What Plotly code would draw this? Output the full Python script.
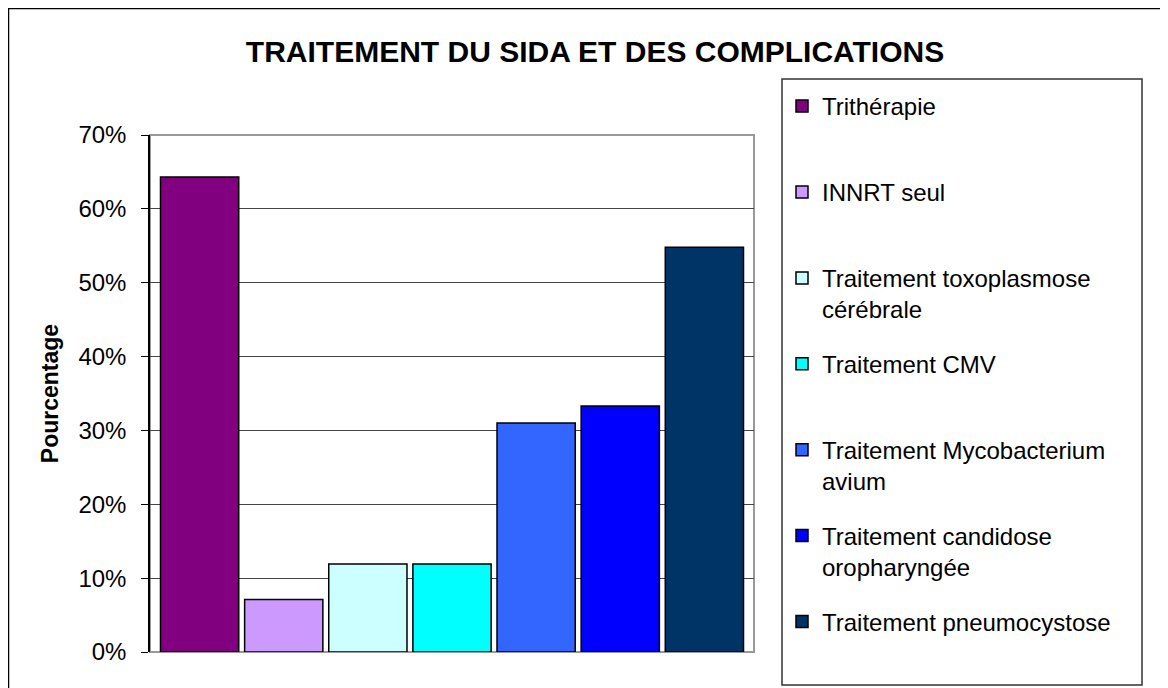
import plotly.graph_objects as go

FONT = "Arial, 'Liberation Sans', sans-serif"

SERIES = ["Trithérapie", "INNRT seul", "Traitement toxoplasmose<br>cérébrale",
          "Traitement CMV", "Traitement Mycobacterium<br>avium",
          "Traitement candidose<br>oropharyngée", "Traitement pneumocystose"]
VALUES = [0.643, 0.071, 0.119, 0.119, 0.310, 0.333, 0.548]
COLORS = ["#800080", "#CC99FF", "#CCFFFF", "#00FFFF", "#3366FF", "#0000FF", "#003366"]
Y_TICKS = [0, 0.1, 0.2, 0.3, 0.4, 0.5, 0.6, 0.7]

W, H = 1160, 680
PL, PR, PT, PB = 142, 746, 127, 644  # plot area in pixels


def px_x(v):
    return (v - PL) / (PR - PL)


def px_y(v):
    return (PB - v) / (PB - PT)


fig = go.Figure()
for i, (name, val, col) in enumerate(zip(SERIES, VALUES, COLORS)):
    # pad single-line labels so every legend entry has the same height
    label = name if "<br>" in name else name + "<br> "
    fig.add_trace(go.Bar(
        x=[""], y=[val], name=label, legendgroup=str(i),
        marker=dict(color=col, line=dict(color="black", width=1.5)),
        hoverinfo="y",
    ))

fig.update_layout(
    width=W, height=H,
    barmode="group", bargap=0.025, bargroupgap=0.07,
    margin=dict(l=PL, r=W - PR, t=PT, b=H - PB),
    paper_bgcolor="white", plot_bgcolor="white",
    font=dict(family=FONT, color="black"),
    title=dict(text="<b>TRAITEMENT DU SIDA ET DES COMPLICATIONS</b>",
               font=dict(size=30, family=FONT, color="black"),
               x=587 / W, xanchor="center", y=1 - 43 / H, yanchor="middle"),
    xaxis=dict(showticklabels=False, ticks="", showgrid=False, zeroline=False,
               showline=False),
    yaxis=dict(range=[0, 0.7], tickvals=Y_TICKS, tickformat=".0%",
               ticks="outside", ticklen=7, tickcolor="black",
               ticklabelstandoff=10,
               tickfont=dict(size=24, family=FONT, color="black"),
               showgrid=True, gridcolor="#444", gridwidth=1,
               zeroline=False, showline=True, linecolor="black", linewidth=1.5,
               title=dict(text="<b>Pourcentage</b>", standoff=13,
                          font=dict(size=23, family=FONT, color="black"))),
    legend=dict(xref="container", yref="container",
                x=774 / W, xanchor="left", y=1 - 76 / H, yanchor="top",
                bgcolor="rgba(0,0,0,0)", borderwidth=0, valign="top",
                tracegroupgap=20.5, maxheight=1.0,
                font=dict(size=24, family=FONT, color="black")),
    showlegend=True,
    shapes=[
        # plot area border
        dict(type="rect", xref="paper", yref="paper", x0=0, x1=1, y0=0, y1=1,
             line=dict(color="#999", width=2), layer="below"),
        # legend box
        dict(type="rect", xref="paper", yref="paper",
             x0=px_x(774), x1=px_x(1134), y0=px_y(677), y1=px_y(71),
             line=dict(color="#333", width=1.5)),
        # outer chart frame
        dict(type="rect", xref="paper", yref="paper",
             x0=px_x(0.5), x1=px_x(W + 4), y0=px_y(H + 4), y1=px_y(0.5),
             line=dict(color="black", width=1.5)),
    ],
)

fig.write_html("out.html")
